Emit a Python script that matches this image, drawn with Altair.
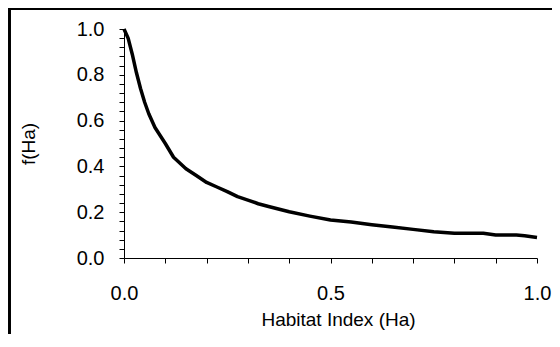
import altair as alt
import pandas as pd

# Curve
ha = [0.0, 0.01, 0.02, 0.03, 0.04, 0.05, 0.06, 0.075, 0.10, 0.12, 0.15, 0.175, 0.20,
      0.225, 0.25, 0.275, 0.30, 0.325, 0.35, 0.40, 0.45, 0.50, 0.55, 0.60, 0.65,
      0.70, 0.75, 0.80, 0.85, 0.87, 0.90, 0.95, 0.97, 1.0]
fha = [1.0, 0.96, 0.89, 0.81, 0.74, 0.68, 0.63, 0.57, 0.50, 0.44, 0.39, 0.36, 0.33,
       0.31, 0.29, 0.268, 0.253, 0.237, 0.225, 0.202, 0.183, 0.166, 0.157, 0.145, 0.135,
       0.125, 0.115, 0.108, 0.108, 0.108, 0.100, 0.100, 0.097, 0.090]

y_tick_values = [round(i * 0.04, 2) for i in range(26)]
x_tick_values = [round(i * 0.1, 1) for i in range(11)]

df = pd.DataFrame({"x": ha, "y": fha})

FONT = "Liberation Sans"
W = 413

line = alt.Chart(df).mark_line(color="black", strokeWidth=3.5, strokeJoin="round").encode(
    x=alt.X("x:Q", title="Habitat Index (Ha)",
            scale=alt.Scale(domain=[0, 1], nice=False, zero=False),
            axis=alt.Axis(values=x_tick_values,
                          labelExpr="abs(datum.value*2 - round(datum.value*2)) < 0.001 ? format(datum.value, '.1f') : ''",
                          grid=False, tickSize=5, labelPadding=20, titlePadding=7,
                          labelOverlap=False, labelFlush=False, titleX=214)),
    y=alt.Y("y:Q", title="f(Ha)",
            scale=alt.Scale(domain=[0, 1], nice=False, zero=False),
            axis=alt.Axis(values=y_tick_values,
                          labelExpr="abs(datum.value*5 - round(datum.value*5)) < 0.001 ? format(datum.value, '.1f') : ''",
                          grid=False, tickSize=5, labelPadding=15, titlePadding=38,
                          labelOverlap=False, labelFlush=False)),
)

frame_top = alt.Chart(df).mark_rule(color="black", strokeWidth=1.2).encode(
    x=alt.value(-115), x2=alt.value(520), y=alt.value(-20.4))
frame_left = alt.Chart(df).mark_rule(color="black", strokeWidth=1.2).encode(
    x=alt.value(-114.5), y=alt.value(-21), y2=alt.value(400))

chart = alt.layer(frame_top, frame_left, line).properties(
    width=W, height=229,
    autosize=alt.AutoSizeParams(type="none"),
    padding={"left": 116, "top": 21, "right": 544 - 116 - W, "bottom": 76},
    background="white",
).configure_view(stroke=None).configure_axis(
    domainColor="black", tickColor="black", labelColor="black", titleColor="black",
    labelFont=FONT, titleFont=FONT, labelFontSize=20, titleFontSize=19,
    titleFontWeight="normal", domainWidth=1, tickWidth=1,
)

chart.save("out.html", embed_options={"renderer": "svg", "actions": False})
